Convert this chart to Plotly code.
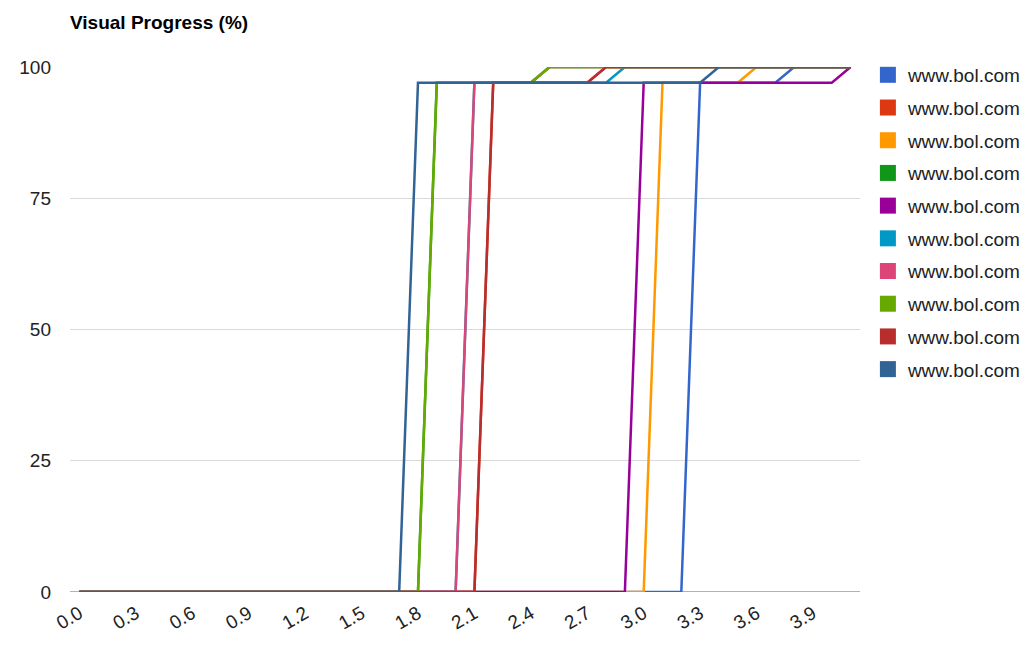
import plotly.graph_objects as go

# categories (seconds)
x_vals = [0.0, 0.1, 0.2, 0.3, 0.4, 0.5, 0.6, 0.7, 0.8, 0.9,
          1.0, 1.1, 1.2, 1.3, 1.4, 1.5, 1.6, 1.7, 1.8, 1.9,
          2.0, 2.1, 2.2, 2.3, 2.4, 2.5, 2.6, 2.7, 2.8, 2.9,
          3.0, 3.1, 3.2, 3.3, 3.4, 3.5, 3.6, 3.7, 3.8, 3.9,
          4.0, 4.1]

tick_vals = [0.0, 0.3, 0.6, 0.9, 1.2, 1.5, 1.8, 2.1, 2.4, 2.7, 3.0, 3.3, 3.6, 3.9]
tick_text = ["0.0", "0.3", "0.6", "0.9", "1.2", "1.5", "1.8", "2.1", "2.4", "2.7", "3.0", "3.3", "3.6", "3.9"]

y_ticks = [0, 25, 50, 75, 100]

run1 = [0, 0, 0, 0, 0, 0, 0, 0, 0, 0,
        0, 0, 0, 0, 0, 0, 0, 0, 0, 0,
        0, 0, 0, 0, 0, 0, 0, 0, 0, 0,
        0, 0, 0, 97, 97, 97, 97, 97, 100, 100,
        100, 100]
run2 = [0, 0, 0, 0, 0, 0, 0, 0, 0, 0,
        0, 0, 0, 0, 0, 0, 0, 0, 0, 0,
        0, 0, 97, 97, 97, 97, 97, 97, 100, 100,
        100, 100, 100, 100, 100, 100, 100, 100, 100, 100,
        100, 100]
run3 = [0, 0, 0, 0, 0, 0, 0, 0, 0, 0,
        0, 0, 0, 0, 0, 0, 0, 0, 0, 0,
        0, 0, 0, 0, 0, 0, 0, 0, 0, 0,
        0, 97, 97, 97, 97, 97, 100, 100, 100, 100,
        100, 100]
run4 = [0, 0, 0, 0, 0, 0, 0, 0, 0, 0,
        0, 0, 0, 0, 0, 0, 0, 0, 0, 97,
        97, 97, 97, 97, 97, 100, 100, 100, 100, 100,
        100, 100, 100, 100, 100, 100, 100, 100, 100, 100,
        100, 100]
run5 = [0, 0, 0, 0, 0, 0, 0, 0, 0, 0,
        0, 0, 0, 0, 0, 0, 0, 0, 0, 0,
        0, 0, 0, 0, 0, 0, 0, 0, 0, 0,
        97, 97, 97, 97, 97, 97, 97, 97, 97, 97,
        97, 100]
run6 = [0, 0, 0, 0, 0, 0, 0, 0, 0, 0,
        0, 0, 0, 0, 0, 0, 0, 0, 0, 0,
        0, 97, 97, 97, 97, 97, 97, 97, 97, 100,
        100, 100, 100, 100, 100, 100, 100, 100, 100, 100,
        100, 100]
run7 = [0, 0, 0, 0, 0, 0, 0, 0, 0, 0,
        0, 0, 0, 0, 0, 0, 0, 0, 0, 0,
        0, 97, 97, 97, 97, 100, 100, 100, 100, 100,
        100, 100, 100, 100, 100, 100, 100, 100, 100, 100,
        100, 100]
run8 = [0, 0, 0, 0, 0, 0, 0, 0, 0, 0,
        0, 0, 0, 0, 0, 0, 0, 0, 0, 97,
        97, 97, 97, 97, 97, 100, 100, 100, 100, 100,
        100, 100, 100, 100, 100, 100, 100, 100, 100, 100,
        100, 100]
run9 = [0, 0, 0, 0, 0, 0, 0, 0, 0, 0,
        0, 0, 0, 0, 0, 0, 0, 0, 0, 0,
        0, 0, 97, 97, 97, 97, 97, 97, 100, 100,
        100, 100, 100, 100, 100, 100, 100, 100, 100, 100,
        100, 100]
run10 = [0, 0, 0, 0, 0, 0, 0, 0, 0, 0,
         0, 0, 0, 0, 0, 0, 0, 0, 97, 97,
         97, 97, 97, 97, 97, 97, 97, 97, 97, 97,
         97, 97, 97, 97, 100, 100, 100, 100, 100, 100,
         100, 100]

series = [run1, run2, run3, run4, run5, run6, run7, run8, run9, run10]
names = ["www.bol.com"] * 10
colors = ["#3366cc", "#dc3912", "#ff9900", "#109618", "#990099",
          "#0099c6", "#dd4477", "#66aa00", "#b82e2e", "#316395"]

FONT = "Liberation Sans, Arial, sans-serif"

fig = go.Figure()
for i, (ys, nm, col) in enumerate(zip(series, names, colors)):
    fig.add_trace(go.Scatter(
        x=x_vals, y=ys, mode="lines", name=nm,
        line=dict(color=col, width=2.5),
        showlegend=False, hoverinfo="x+y+name"))
for i, (nm, col) in enumerate(zip(names, colors)):
    fig.add_trace(go.Scatter(
        x=[None], y=[None], mode="markers", name=nm,
        marker=dict(symbol="square", size=16, color=col),
        legendgroup="g%d" % i, showlegend=True))

fig.update_layout(
    width=1024, height=650,
    paper_bgcolor="white", plot_bgcolor="white",
    margin=dict(l=70, r=164, t=67, b=58, autoexpand=False),
    font=dict(family=FONT, size=19, color="#222222"),
    title=dict(text="<b>Visual Progress (%)</b>", x=70 / 1024, xanchor="left",
               y=1 - 22 / 650, yanchor="middle",
               font=dict(family=FONT, size=19, color="#000000")),
    legend=dict(x=1.01, xanchor="left", y=1.021, yanchor="top",
                font=dict(family=FONT, size=19, color="#222222"),
                tracegroupgap=5, bgcolor="rgba(0,0,0,0)"),
    xaxis=dict(range=[-0.05, 4.15], tickmode="array", tickvals=tick_vals,
               ticktext=tick_text, tickangle=-30, showgrid=False,
               zeroline=False, showline=False, ticks="",
               ticklabelstandoff=6,
               tickfont=dict(family=FONT, size=19, color="#222222")),
    yaxis=dict(range=[0, 100], tickmode="array", tickvals=y_ticks,
               showgrid=True, gridcolor="#d9d9d9", gridwidth=1,
               zeroline=False, showline=False, ticks="",
               ticklabelstandoff=18,
               tickfont=dict(family=FONT, size=19, color="#222222")),
)
fig.add_hline(y=0, line=dict(color="#999999", width=1.5), layer="below")

fig.write_html("out.html", config={"displayModeBar": False},
               post_script="document.body.style.margin='0';document.body.style.overflow='hidden';")
